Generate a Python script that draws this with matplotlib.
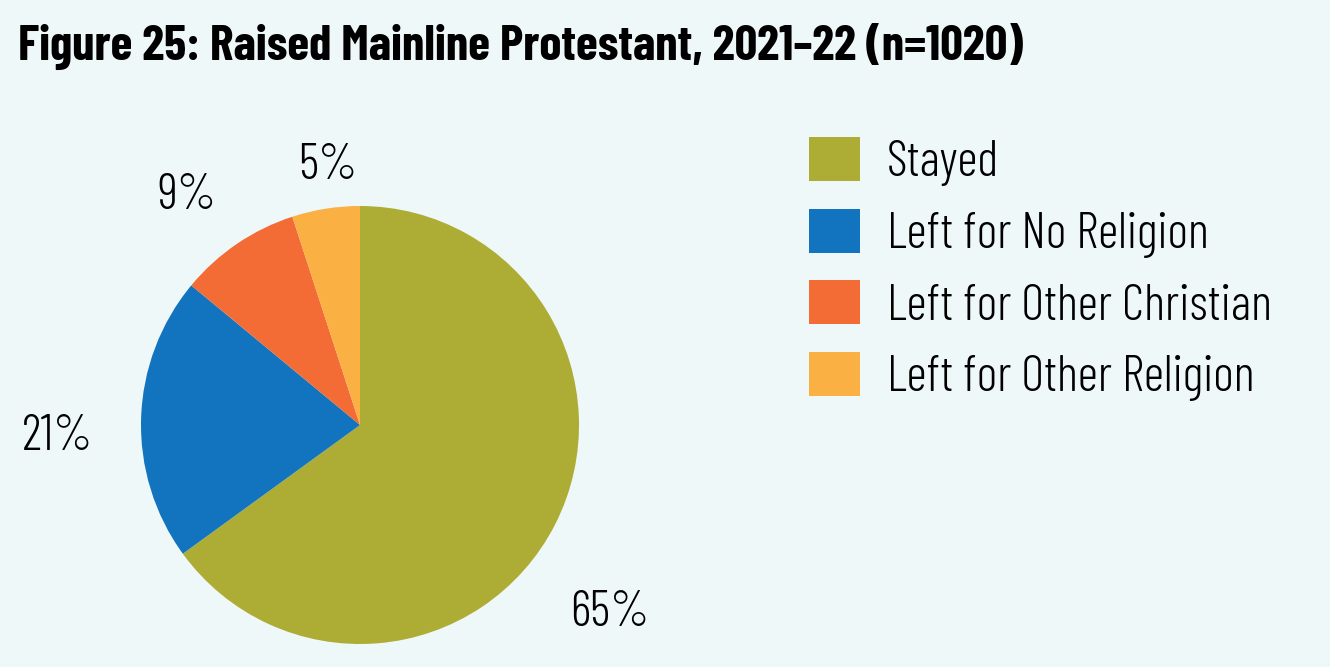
import matplotlib
matplotlib.use('Agg')
import matplotlib.pyplot as plt
import numpy as np
from matplotlib.patches import Patch

categories = ["Stayed", "Left for No Religion", "Left for Other Christian", "Left for Other Religion"]
shares = [65, 21, 9, 5]
colors = ["#ADAC35", "#1274BF", "#F36C35", "#FBB044"]
title = "Figure 25: Raised Mainline Protestant, 2021\u201322 (n=1020)"

bg = "#EFF8F9"
font = ["Barlow Condensed", "DejaVu Sans"]

fig = plt.figure(figsize=(13.3, 6.67), dpi=100, facecolor=bg)

# pie axes: centre at (360, 425) px from top-left, radius ~219 px
W, H = 1330, 667
r_px = 219
cx, cy = 360, H - 425
ax_w, ax_h = 720, 567
ax = fig.add_axes([0, 0, ax_w / W, ax_h / H])
ax.set_facecolor(bg)
wedges, _ = ax.pie(shares, colors=colors, startangle=90, counterclock=False,
                   radius=1, wedgeprops=dict(linewidth=0))
ax.set_xlim(-cx / r_px, (ax_w - cx) / r_px)
ax.set_ylim(-cy / r_px, (ax_h - cy) / r_px)
ax.axis('off')

# percent labels just outside each wedge
label_r = [1.43, 1.38, 1.31, 1.19]
label_shift = [-10, 4, 3, -2]
for w, v, lr, sh in zip(wedges, shares, label_r, label_shift):
    mid = np.deg2rad((w.theta1 + w.theta2) / 2 + sh)
    ax.text(lr * np.cos(mid), lr * np.sin(mid), f"{v}%", ha='center', va='center',
            fontsize=36, family=font, fontweight=300, color='black')

fig.text(18 / W, 1 - 46 / H, title, ha='left', va='center', fontsize=36,
         fontweight='bold', family=font, color='black')

handles = [Patch(facecolor=c, edgecolor='none') for c in colors]
fs = 36
fig.legend(handles, categories, loc='upper left', bbox_to_anchor=(809 / W, 1 - 137 / H),
           frameon=False, borderpad=0, borderaxespad=0,
           handlelength=51 / 1.389 / fs, handleheight=49 / 1.389 / fs,
           handletextpad=27 / 1.389 / fs, labelspacing=0.45,
           prop=dict(family=font, size=fs, weight=300))

fig.savefig("out.png", dpi=100, facecolor=bg)
